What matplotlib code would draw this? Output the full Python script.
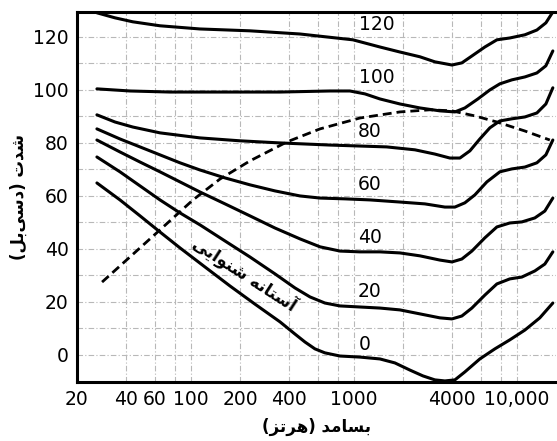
import matplotlib
matplotlib.use("Agg")
import matplotlib.pyplot as plt

# Persian text: matplotlib has no shaping, so map letters to presentation forms
FORMS = {
    'ا': ('\uFE8D', '\uFE8E', None, None),
    'آ': ('\uFE81', '\uFE82', None, None),
    'ب': ('\uFE8F', '\uFE90', '\uFE91', '\uFE92'),
    'ت': ('\uFE95', '\uFE96', '\uFE97', '\uFE98'),
    'د': ('\uFEA9', '\uFEAA', None, None),
    'ر': ('\uFEAD', '\uFEAE', None, None),
    'ز': ('\uFEAF', '\uFEB0', None, None),
    'س': ('\uFEB1', '\uFEB2', '\uFEB3', '\uFEB4'),
    'ش': ('\uFEB5', '\uFEB6', '\uFEB7', '\uFEB8'),
    'ل': ('\uFEDD', '\uFEDE', '\uFEDF', '\uFEE0'),
    'م': ('\uFEE1', '\uFEE2', '\uFEE3', '\uFEE4'),
    'ن': ('\uFEE5', '\uFEE6', '\uFEE7', '\uFEE8'),
    'ه': ('\uFEE9', '\uFEEA', '\uFEEB', '\uFEEC'),
    'و': ('\uFEED', '\uFEEE', None, None),
    'ی': ('\uFBFC', '\uFBFD', '\uFBFE', '\uFBFF'),
}


def fa(s):
    out = []
    for i, c in enumerate(s):
        if c not in FORMS:
            if c != '\u200c':
                out.append(c)
            continue
        prev = s[i - 1] if i > 0 else ''
        nxt = s[i + 1] if i + 1 < len(s) else ''
        jp = prev in FORMS and FORMS[prev][2] is not None
        jn = FORMS[c][2] is not None and nxt in FORMS
        f = FORMS[c]
        if jp and jn:
            out.append(f[3])
        elif jp:
            out.append(f[1])
        elif jn:
            out.append(f[2])
        else:
            out.append(f[0])
    vis = ''.join(reversed(out))
    return vis.translate(str.maketrans('()', ')('))


# equal loudness contours, frequency (Hz) and level (dB)
f0 = [26.5, 36.7, 48.7, 64.6, 85.7, 122, 174, 247, 352, 435, 501, 577, 664, 822, 1090, 1445, 1786,
      2208, 2654, 3142, 3620, 4170, 4800, 5932, 7336, 9060, 11210, 13840, 16640]
db0 = [64.9, 58.5, 52.5, 46.4, 40.4, 33.2, 26.0, 19.2, 12.5, 7.9, 4.9, 2.3, 0.8, -0.4, -0.8, -1.5, -3.0,
       -5.7, -7.9, -9.4, -9.8, -9.4, -6.4, -1.5, 2.3, 5.7, 9.4, 14.0, 19.6]

f20 = [26.5, 36.7, 48.7, 64.6, 85.7, 113.6, 162, 230, 328, 435, 538, 664, 822, 1090, 1445, 1918, 2544,
       3374, 4000, 4600, 5300, 6370, 7546, 9060, 10740, 12900, 14860, 16640]
db20 = [74.7, 69.1, 63.8, 58.5, 53.6, 49.1, 43.0, 37.0, 30.6, 25.3, 21.9, 19.6, 18.5, 18.1, 17.7, 17.0, 15.5,
        14.0, 13.6, 14.7, 17.7, 22.6, 26.8, 28.7, 29.4, 31.7, 34.3, 38.9]

f40 = [26.5, 36.7, 48.7, 64.6, 85.7, 113.6, 162, 230, 328, 467, 620, 822, 1090, 1445, 1918, 2544,
       3374, 4000, 4600, 5300, 6370, 7546, 9060, 10740, 12900, 14860, 16640]
db40 = [81.1, 76.6, 72.8, 69.1, 65.3, 61.5, 57.0, 52.5, 47.9, 43.8, 40.8, 39.2, 38.9, 38.9, 38.5, 37.4,
        35.8, 35.1, 36.2, 39.2, 44.2, 48.3, 49.8, 50.2, 51.7, 54.3, 59.2]

f60 = [26.5, 36.7, 48.7, 64.6, 85.7, 113.6, 162, 230, 328, 467, 620, 882, 1256, 1918, 2730, 3620,
       4170, 4800, 5530, 6550, 7872, 9330, 11210, 13280, 15080, 16640]
db60 = [85.3, 81.5, 78.5, 75.5, 72.5, 69.8, 66.8, 64.2, 61.9, 60.0, 59.2, 58.9, 58.5, 57.7, 57.0, 55.8,
        55.8, 57.4, 60.4, 65.3, 69.1, 70.2, 70.9, 72.5, 75.5, 81.1]

f80 = [26.5, 34.2, 44, 64.6, 113.6, 200, 352, 713, 1590, 2370, 3142, 3884, 4476, 5152, 5932, 6834,
       7872, 9330, 11210, 13280, 15080, 16640]
db80 = [90.6, 87.9, 86.0, 83.8, 81.9, 80.8, 80.0, 79.2, 78.5, 77.4, 75.8, 74.3, 74.3, 77.0, 81.5, 85.7,
        88.3, 89.1, 89.8, 91.3, 94.7, 100.8]

f100 = [26.5, 42.3, 74.4, 151, 352, 713, 946, 1170, 1445, 1918, 2544, 3374, 4170, 4800, 5770, 6834,
        7872, 9330, 11210, 13280, 15080, 16640]
db100 = [100.4, 99.6, 99.2, 99.2, 99.2, 99.6, 99.6, 98.5, 96.6, 94.7, 93.2, 92.1, 91.7, 93.2, 96.6, 100.0,
         102.3, 103.8, 104.9, 106.4, 109.1, 114.7]

f120 = [26.5, 34.2, 44, 64.6, 113.6, 230, 467, 987, 1445, 1918, 2544, 3142, 4000, 4600, 5300, 6370,
        7546, 9060, 11210, 13280, 15080, 16640]
db120 = [129.1, 127.2, 125.7, 124.2, 123.0, 122.3, 121.1, 118.9, 116.2, 114.3, 112.5, 110.6, 109.4, 110.2,
         112.8, 116.2, 118.9, 119.6, 120.8, 122.6, 125.3, 129.4]

# dashed curve
fd = [28.5, 42.3, 64.6, 103, 151, 230, 389, 620, 1090, 1918, 2930, 4000, 5530, 7546, 11210, 15950]
dbd = [27.5, 37.0, 47.2, 58.5, 66.4, 73.2, 80.4, 85.3, 89.4, 91.7, 92.5, 92.1, 90.2, 87.9, 84.5, 81.1]

levels = ['0', '20', '40', '60', '80', '100', '120']
xticks = [20, 40, 60, 100, 200, 400, 1000, 4000, 10000]
xticklabels = ['20', '40', '60', '100', '200', '400', '1000', '4000', '10,000']
yticks = [0, 20, 40, 60, 80, 100, 120]
vgrid = [40, 60, 80, 100, 200, 400, 600, 800, 1000, 2000, 4000, 6000, 8000, 10000]
hgrid = [0, 10, 20, 30, 40, 50, 60, 70, 80, 90, 100, 110, 120]

fig = plt.figure(figsize=(5.57, 4.41), dpi=100)
ax = fig.add_axes([77 / 557, 59 / 441, 479 / 557, 370 / 441])
ax.set_xscale('log')
ax.set_xlim(20, 17400)
ax.set_ylim(-10.2, 129.4)

for v in vgrid:
    ax.axvline(v, color='#b8b8b8', lw=0.8, ls=(0, (5, 2, 1, 2)), zorder=1)
for h in hgrid:
    ax.axhline(h, color='#b8b8b8', lw=0.8, ls=(0, (5, 2, 1, 2)), zorder=1)

curves = [(f0, db0), (f20, db20), (f40, db40), (f60, db60), (f80, db80), (f100, db100), (f120, db120)]
for fx, dy in curves:
    ax.plot(fx, dy, color='black', lw=2.2, solid_capstyle='round', solid_joinstyle='round', zorder=3)
ax.plot(fd, dbd, color='black', lw=2.0, ls=(0, (3.2, 1.8)), zorder=4)

label_pos = [(1172, 3.8), (1256, 23.8), (1256, 44.2), (1256, 64.2), (1256, 84.2), (1386, 104.5), (1386, 124.5)]
for lab, (lx, ly) in zip(levels, label_pos):
    ax.text(lx, ly, lab, fontsize=13.5, ha='center', va='center', zorder=5)

ax.text(215, 30.3, fa('آستانه شنوایی'), fontsize=12, fontweight='bold', rotation=-33,
        rotation_mode='anchor', ha='center', va='center', zorder=5)

ax.set_xticks(xticks)
ax.set_xticklabels(xticklabels)
ax.xaxis.set_minor_locator(matplotlib.ticker.NullLocator())
ax.set_yticks(yticks)
ax.tick_params(length=0, labelsize=13.5, pad=6)

for side in ['left', 'bottom', 'top']:
    ax.spines[side].set_linewidth(2.2)
ax.spines['right'].set_visible(False)

ax.set_xlabel(fa('بسامد (هرتز)'), fontsize=12, fontweight='bold', labelpad=6)
ax.set_ylabel(fa('شدت (دسی‌بل)'), fontsize=12, fontweight='bold', labelpad=4)

fig.savefig('out.png', dpi=100)
